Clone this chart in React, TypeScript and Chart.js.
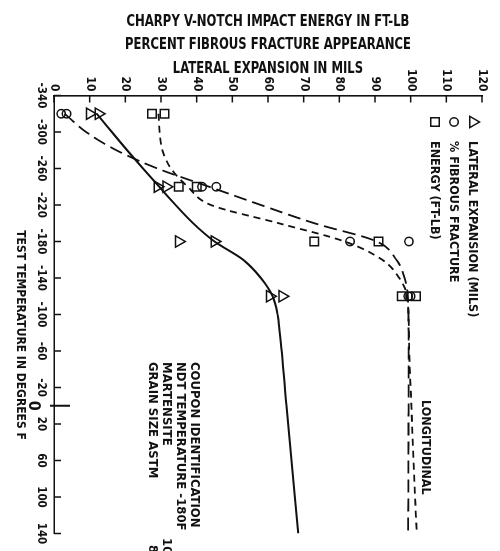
import React, { useEffect, useRef } from 'react';
import { Chart, registerables } from 'chart.js';

Chart.register(...registerables);

const INK = '#111111';
const FONT = '"Liberation Sans Narrow", "DejaVu Sans Condensed", "Liberation Sans", sans-serif';

// ---------- text ----------
const titleLines = [
  'CHARPY V-NOTCH IMPACT ENERGY IN FT-LB',
  'PERCENT FIBROUS FRACTURE APPEARANCE',
  'LATERAL EXPANSION IN MILS',
];
const xTitle = 'TEST TEMPERATURE IN DEGREES F';
const legendLabels = ['LATERAL EXPANSION (MILS)', '% FIBROUS FRACTURE', 'ENERGY (FT-LB)'];
const legendStyles = ['triangle', 'circle', 'rect'];
const sideLabel = 'LONGITUDINAL';
const couponLines = ['COUPON IDENTIFICATION', 'NDT TEMPERATURE -180F', 'MARTENSITE', 'GRAIN SIZE ASTM'];
const couponValues = ['', '', '100%', '8'];

// ---------- ticks ----------
const tempTicks = [-340, -300, -260, -220, -180, -140, -100, -60, -20, 0, 20, 60, 100, 140];
const valueTicks = [0, 10, 20, 30, 40, 50, 60, 70, 80, 90, 100, 110, 120];

// ---------- test points ----------
const testTemps = [-320, -320, -240, -240, -180, -180, -120, -120];
const lateralPts = [10, 12.5, 29, 31.5, 35, 45, 60.5, 64];
const fibrousPts = [2, 3.5, 41.5, 45.5, 83, 99.5, 99.3, 100];
const energyPts = [27.5, 31, 35, 40, 73, 91, 97.5, 101.5];

// ---------- faired curves ----------
const lateralCurveT = [-320, -280, -240, -200, -180, -160, -140, -120, -100, -80, 0, 140];
const lateralCurveV = [12, 20.5, 29.5, 39, 45, 53, 58, 61.3, 62.7, 63.3, 65.2, 68.5];

const fibrousCurveT = [-320, -300, -280, -260, -240, -220, -200, -180, -160, -140, -120, -80, 0, 140];
const fibrousCurveV = [3, 9, 17.5, 29, 43.5, 58, 73, 90.5, 96, 98.3, 99.2, 99.4, 99.4, 99.3];

const energyCurveT = [-320, -300, -280, -260, -240, -220, -200, -180, -160, -140, -120, -60, 0, 60, 140];
const energyCurveV = [29.3, 29.6, 30.4, 32.8, 37.5, 44, 63, 81.5, 92, 96.8, 99, 99.6, 100.2, 100.8, 101.7];

const pts = (xs: number[], ys: number[]) => xs.map((x, i) => ({ x, y: ys[i] }));

function drawMarker(ctx: CanvasRenderingContext2D, style: string, x: number, y: number, r: number) {
  ctx.beginPath();
  if (style === 'triangle') {
    ctx.moveTo(x, y - r);
    ctx.lineTo(x + r * 0.866, y + r * 0.5);
    ctx.lineTo(x - r * 0.866, y + r * 0.5);
    ctx.closePath();
  } else if (style === 'circle') {
    ctx.arc(x, y, r, 0, Math.PI * 2);
  } else {
    const s = r * Math.SQRT1_2;
    ctx.rect(x - s, y - s, 2 * s, 2 * s);
  }
  ctx.stroke();
}

const annotPlugin = {
  id: 'annot',
  afterDraw(chart: any) {
    const { ctx, chartArea, scales } = chart;
    const xs = scales.x;
    const ys = scales.y;
    ctx.save();
    ctx.strokeStyle = INK;
    ctx.fillStyle = INK;

    // value-axis title (condensed lettering)
    const midY = (chartArea.top + chartArea.bottom) / 2;
    titleLines.forEach((line, i) => {
      ctx.save();
      ctx.translate(22 + i * 23.3, midY);
      ctx.rotate(-Math.PI / 2);
      ctx.scale(0.81, 1);
      ctx.font = `bold 16px ${FONT}`;
      ctx.textAlign = 'center';
      ctx.textBaseline = 'middle';
      ctx.fillText(line, 0, 0);
      ctx.restore();
    });

    // inward tick marks on temperature axis
    ctx.lineWidth = 1.5;
    const y0 = chartArea.bottom;
    tempTicks.forEach((t) => {
      if (t === 0) return;
      const px = xs.getPixelForValue(t);
      ctx.beginPath();
      ctx.moveTo(px, y0);
      ctx.lineTo(px, y0 - 7);
      ctx.stroke();
    });
    // long tick at 0 F
    const pz = xs.getPixelForValue(0);
    ctx.lineWidth = 2;
    ctx.beginPath();
    ctx.moveTo(pz, y0 + 4);
    ctx.lineTo(pz, y0 - 16);
    ctx.stroke();
    ctx.font = `bold 16px ${FONT}`;
    ctx.textAlign = 'center';
    ctx.textBaseline = 'middle';
    ctx.fillText('0', pz, y0 + 21);

    // temperature axis title
    ctx.font = `bold 12px ${FONT}`;
    ctx.fillText(xTitle, 335, 480);

    // inward tick marks on value axis
    ctx.lineWidth = 1.5;
    const x0 = chartArea.left;
    valueTicks.forEach((v) => {
      const py = ys.getPixelForValue(v);
      ctx.beginPath();
      ctx.moveTo(x0, py);
      ctx.lineTo(x0 + 7, py);
      ctx.stroke();
    });

    // legend
    ctx.lineWidth = 1.5;
    ctx.textAlign = 'left';
    ctx.textBaseline = 'middle';
    ctx.font = `bold 12.5px ${FONT}`;
    legendLabels.forEach((lab, i) => {
      const cy = chartArea.top + 9 + i * 19;
      const cx = chartArea.left + 26.5;
      drawMarker(ctx, legendStyles[i], cx, cy, legendStyles[i] === 'circle' ? 4.2 : legendStyles[i] === 'triangle' ? 6.5 : 6);
      ctx.fillText(lab, cx + 19, cy + 1);
    });

    // side label
    ctx.font = `bold 12.5px ${FONT}`;
    ctx.fillText(sideLabel, 400, 75);

    // coupon block
    ctx.font = `bold 13px ${FONT}`;
    couponLines.forEach((line, i) => {
      const cy = 306 + i * 14;
      ctx.fillText(line, 362, cy);
      if (couponValues[i]) ctx.fillText(couponValues[i], i === 2 ? 538 : 545, cy);
    });

    ctx.restore();
  },
};

export default function App() {
  const ref = useRef<HTMLCanvasElement>(null);

  useEffect(() => {
    const canvas = ref.current;
    if (!canvas) return;
    const markerBase = {
      showLine: false,
      borderColor: INK,
      pointBorderColor: INK,
      pointBackgroundColor: 'rgba(0,0,0,0)',
      pointBorderWidth: 1.5,
    };
    const curveBase = {
      borderColor: INK,
      pointRadius: 0,
      fill: false,
      cubicInterpolationMode: 'monotone' as const,
    };
    const chart = new Chart(canvas, {
      type: 'line',
      data: {
        datasets: [
          { ...curveBase, label: 'lateral fit', data: pts(lateralCurveT, lateralCurveV), borderWidth: 2 },
          { ...curveBase, label: 'fibrous fit', data: pts(fibrousCurveT, fibrousCurveV), borderWidth: 1.8, borderDash: [13, 6] },
          { ...curveBase, label: 'energy fit', data: pts(energyCurveT, energyCurveV), borderWidth: 1.8, borderDash: [7, 5] },
          { ...markerBase, label: legendLabels[0], data: pts(testTemps, lateralPts), pointStyle: 'triangle', pointRadius: 6.5 },
          { ...markerBase, label: legendLabels[1], data: pts(testTemps, fibrousPts), pointStyle: 'circle', pointRadius: 4.2 },
          { ...markerBase, label: legendLabels[2], data: pts(testTemps, energyPts), pointStyle: 'rect', pointRadius: 6 },
        ] as any,
      },
      options: {
        animation: false,
        responsive: false,
        devicePixelRatio: 1,
        layout: { padding: { top: 18, right: 17.5, left: 0, bottom: 0 } },
        plugins: { legend: { display: false }, tooltip: { enabled: false } },
        scales: {
          x: {
            type: 'linear',
            min: -340,
            max: 140,
            grid: { display: false, drawTicks: false },
            border: { display: true, color: INK, width: 1.6 },
            afterBuildTicks: (s: any) => {
              s.ticks = tempTicks.map((v) => ({ value: v }));
            },
            afterFit: (s: any) => {
              s.height = 54;
            },
            ticks: {
              autoSkip: false,
              maxRotation: 0,
              minRotation: 0,
              padding: 6,
              color: INK,
              font: { family: FONT, size: 11.5, weight: 'bold' },
              callback: (v: any) => (v === 0 ? '' : String(v)),
            },
            title: { display: false },
          },
          y: {
            type: 'linear',
            min: 0,
            max: 120,
            grid: { display: false, drawTicks: false },
            border: { display: true, color: INK, width: 1.6 },
            afterBuildTicks: (s: any) => {
              s.ticks = valueTicks.map((v) => ({ value: v }));
            },
            afterFit: (s: any) => {
              s.width = 95.5;
            },
            ticks: {
              padding: 4,
              color: INK,
              font: { family: FONT, size: 12, weight: 'bold' },
            },
            title: { display: false },
          },
        },
      } as any,
      plugins: [annotPlugin],
    });
    return () => chart.destroy();
  }, []);

  return (
    <div
      style={{
        position: 'fixed',
        left: 0,
        top: 0,
        width: 500,
        height: 551,
        background: '#fff',
        overflow: 'hidden',
      }}
    >
      <canvas
        ref={ref}
        width={551}
        height={500}
        style={{
          position: 'absolute',
          left: 0,
          top: 0,
          width: 551,
          height: 500,
          transformOrigin: '0 0',
          transform: 'translate(500px, 0px) rotate(90deg)',
        }}
      />
    </div>
  );
}
